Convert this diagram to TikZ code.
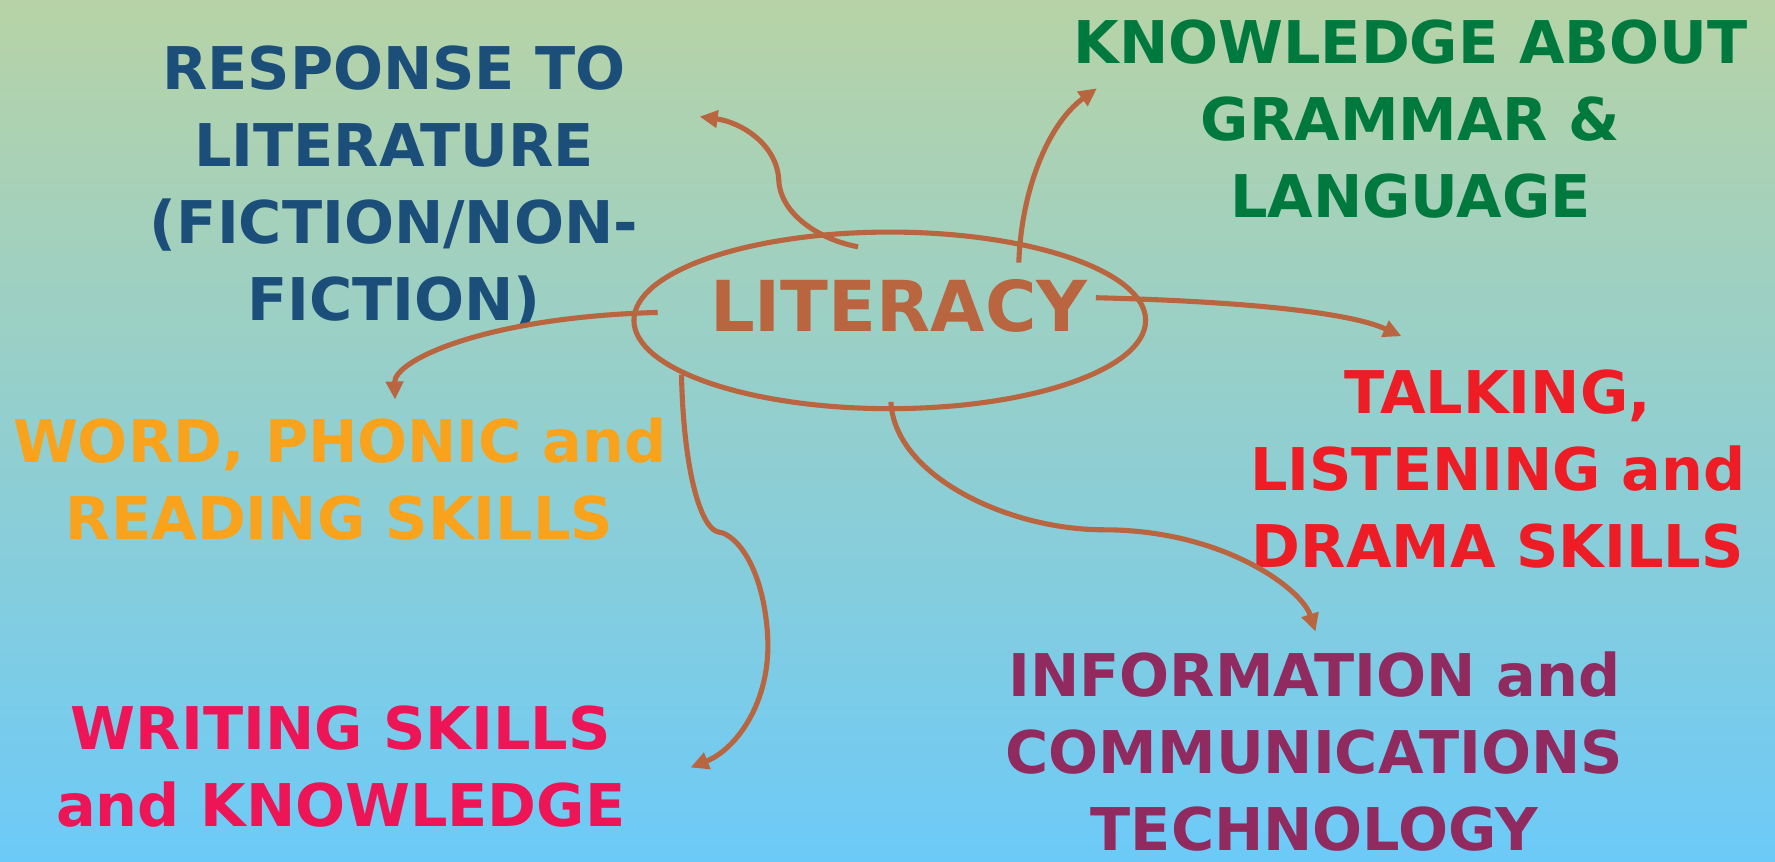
\documentclass[tikz,border=0pt]{standalone}
\usepackage{fontspec}
\setmainfont{DejaVu Sans}
\usetikzlibrary{arrows.meta}

\definecolor{bgtop}{RGB}{183,211,166}
\definecolor{bgmid}{RGB}{150,206,214}
\definecolor{bgbot}{RGB}{108,202,248}
\definecolor{litbrown}{RGB}{185,101,63}
\definecolor{respblue}{RGB}{27,78,121}
\definecolor{gramgreen}{RGB}{0,121,63}
\definecolor{wordorange}{RGB}{248,163,27}
\definecolor{talkred}{RGB}{238,28,37}
\definecolor{writpink}{RGB}{238,21,86}
\definecolor{infopurple}{RGB}{145,42,94}

\tikzset{every picture/.style={line width=0.75pt}}
\tikzset{
  topic/.style={font=\bfseries\fontsize{26}{34}\selectfont, align=center, inner sep=0pt},
  link/.style={draw=litbrown, line width=2.25pt, -{Triangle[length=8pt,width=7.5pt]}},
}

\begin{document}
\begin{tikzpicture}[x=0.5pt,y=0.5pt,yscale=-1,xscale=1]
\useasboundingbox (0,0) rectangle (1568,761);

%Shape: Rectangle [id:dp_background] 
\shade [top color=bgtop, middle color=bgmid, bottom color=bgbot] (0,0) rectangle (1568,761);
%Shape: Ellipse [id:dp_literacy] 
\draw [color=litbrown, line width=2.25pt] (786,283) ellipse (226 and 78);

% Text Node
\draw (794,270) node (lit) [font=\bfseries\fontsize{31}{36}\selectfont, text=litbrown, inner sep=0pt] {LITERACY};
% Text Node
\draw (348,165) node (resp) [topic, text=respblue] {RESPONSE TO\\LITERATURE\\(FICTION/NON-\\FICTION)};
% Text Node
\draw (1246,105) node (gram) [topic, text=gramgreen] {KNOWLEDGE ABOUT\\GRAMMAR \&\\LANGUAGE};
% Text Node
\draw (300,423) node (word) [topic, text=wordorange] {WORD, PHONIC and\\READING SKILLS};
% Text Node
\draw (1323,414) node (talk) [topic, text=talkred] {TALKING,\\LISTENING and\\DRAMA SKILLS};
% Text Node
\draw (301,677) node (writ) [topic, text=writpink] {WRITING SKILLS\\and KNOWLEDGE};
% Text Node
\draw (1161,664) node (info) [topic, text=infopurple] {INFORMATION and\\COMMUNICATIONS\\TECHNOLOGY};

%Ends of the curve lines
\coordinate (respS) at (758,218);
\coordinate (respE) at (618,103);
\coordinate (gramS) at (900,232);
\coordinate (gramE) at (969,78);
\coordinate (talkS) at (968,263);
\coordinate (talkE) at (1238,297);
\coordinate (infoS) at (787,355);
\coordinate (infoE) at (1162,558);
\coordinate (wordS) at (581,276);
\coordinate (wordE) at (349,353);
\coordinate (writS) at (602,331);
\coordinate (writE) at (610,678);

%Curve Lines [id:da_resp] 
\draw [link] (respS) .. controls (725,212) and (690,190) .. (688,160) .. controls (687,128) and (655,108) .. (respE);
%Curve Lines [id:da_gram] 
\draw [link] (gramS) .. controls (902,170) and (925,110) .. (gramE);
%Curve Lines [id:da_talk] 
\draw [link] (talkS) .. controls (1090,266) and (1190,275) .. (talkE);
%Curve Lines [id:da_info] 
\draw [link] (infoS) .. controls (790,420) and (890,468) .. (975,468) .. controls (1080,468) and (1150,520) .. (infoE);
%Curve Lines [id:da_word] 
\draw [link] (wordS) .. controls (430,280) and (348,318) .. (wordE);
%Curve Lines [id:da_writ] 
\draw [link] (writS) .. controls (604,420) and (620,468) .. (635,470) .. controls (650,472) and (674,500) .. (678,560) .. controls (682,620) and (650,662) .. (writE);

\end{tikzpicture}
\end{document}
